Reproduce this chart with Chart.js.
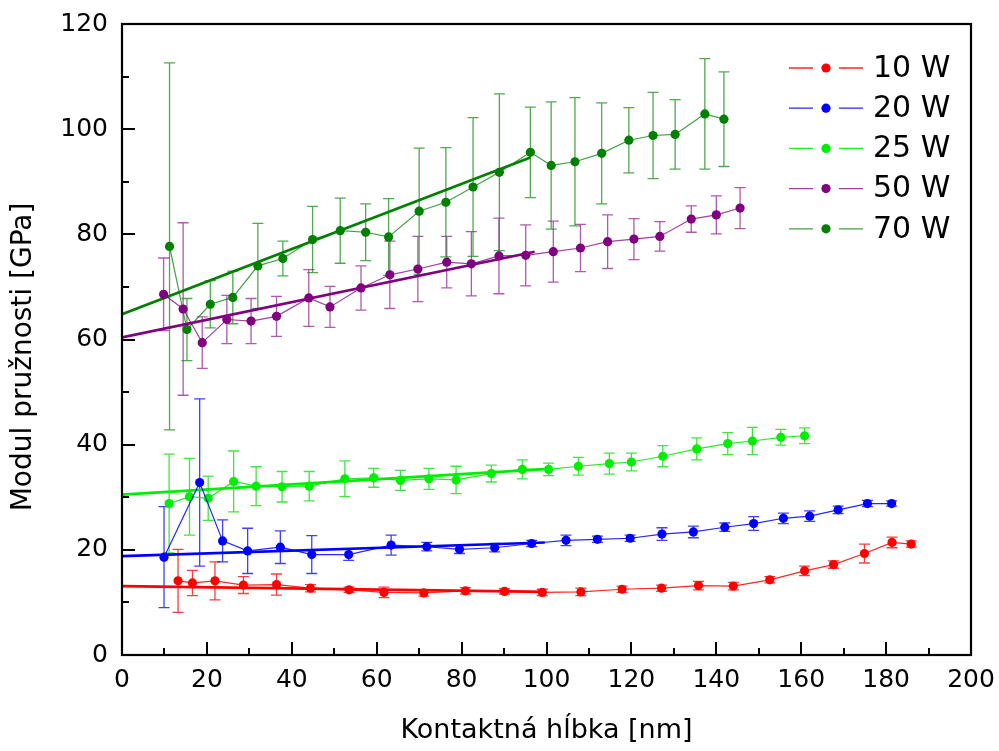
<!DOCTYPE html>
<html>
<head>
<meta charset="utf-8">
<script src="https://cdn.jsdelivr.net/npm/chart.js@4.4.0/dist/chart.umd.min.js"></script>
<style>
  html, body { margin: 0; padding: 0; background: #fff; }
  canvas { display: block; }
</style>
</head>
<body>
<canvas id="chart" width="999" height="751"></canvas>
<script>
// depth [nm], modulus [GPa], error (+/-) for each power
const x10 = [13.2, 16.6, 21.9, 28.6, 36.4, 44.4, 53.5, 61.7, 71.1, 80.9, 90.1, 99.0, 108.1, 117.8, 127.1, 135.8, 144.0, 152.6, 160.8, 167.6, 174.9, 181.4, 185.9];
const y10 = [14.1, 13.7, 14.1, 13.3, 13.4, 12.7, 12.4, 11.9, 11.8, 12.2, 12.1, 11.9, 12.0, 12.5, 12.7, 13.2, 13.1, 14.3, 16.0, 17.2, 19.3, 21.4, 21.1];
const e10 = [6.0, 2.4, 3.6, 1.6, 2.0, 0.7, 0.5, 1.0, 0.6, 0.6, 0.5, 0.6, 0.7, 0.6, 0.6, 0.8, 0.7, 0.6, 0.9, 0.7, 1.8, 1.0, 0.6];

const x20 = [9.9, 18.3, 23.7, 29.6, 37.3, 44.7, 53.4, 63.4, 71.8, 79.5, 87.8, 96.5, 104.6, 112.0, 119.7, 127.2, 134.6, 142.0, 148.8, 155.8, 162.0, 168.7, 175.6, 181.3];
const y20 = [18.6, 32.8, 21.7, 19.8, 20.5, 19.1, 19.1, 20.9, 20.6, 20.1, 20.4, 21.2, 21.8, 22.0, 22.2, 23.0, 23.4, 24.3, 25.0, 26.0, 26.4, 27.6, 28.8, 28.8];
const e20 = [9.6, 15.9, 4.0, 4.3, 3.1, 3.6, 1.1, 1.9, 0.8, 0.8, 0.8, 0.6, 1.0, 0.6, 0.6, 1.2, 1.1, 0.8, 1.3, 1.0, 1.0, 0.7, 0.6, 0.5];

const x25 = [11.1, 15.9, 20.3, 26.3, 31.6, 37.7, 44.1, 52.5, 59.3, 65.6, 72.3, 78.7, 87.0, 94.3, 100.5, 107.5, 114.8, 120.0, 127.4, 135.4, 142.7, 148.5, 155.2, 160.8];
const y25 = [28.8, 30.1, 29.8, 33.0, 32.1, 32.0, 32.1, 33.5, 33.7, 33.2, 33.5, 33.3, 34.5, 35.3, 35.3, 35.9, 36.4, 36.7, 37.8, 39.2, 40.2, 40.7, 41.4, 41.7];
const e25 = [9.4, 7.3, 4.2, 5.8, 3.7, 2.9, 2.8, 3.4, 1.8, 1.9, 2.0, 2.6, 1.6, 1.8, 1.2, 1.7, 2.0, 1.7, 2.0, 2.1, 2.1, 2.6, 1.5, 1.5];

const x50 = [9.8, 14.4, 18.9, 24.7, 30.4, 36.4, 44.0, 49.0, 56.3, 63.1, 69.7, 76.5, 82.3, 88.8, 95.1, 101.6, 108.0, 114.4, 120.6, 126.7, 134.1, 140.0, 145.6];
const y50 = [68.6, 65.8, 59.4, 63.8, 63.5, 64.4, 67.9, 66.2, 69.8, 72.3, 73.4, 74.7, 74.4, 75.9, 76.0, 76.7, 77.4, 78.6, 79.1, 79.6, 82.9, 83.7, 85.0];
const e50 = [6.9, 16.4, 4.9, 4.6, 4.3, 3.8, 5.4, 3.9, 4.2, 6.4, 6.2, 4.9, 6.1, 7.2, 5.8, 5.8, 4.5, 5.1, 3.9, 2.8, 2.5, 3.6, 3.9];

const x70 = [11.2, 15.3, 20.8, 26.1, 32.0, 37.9, 44.9, 51.4, 57.4, 62.8, 70.0, 76.3, 82.7, 88.9, 96.2, 101.1, 106.7, 113.0, 119.4, 125.1, 130.3, 137.3, 141.8];
const y70 = [77.7, 61.9, 66.7, 68.0, 74.0, 75.4, 79.0, 80.7, 80.4, 79.5, 84.4, 86.1, 89.0, 91.8, 95.6, 93.1, 93.8, 95.4, 97.9, 98.8, 99.0, 102.9, 101.9];
const e70 = [34.9, 5.9, 4.5, 5.0, 8.1, 3.3, 6.3, 6.2, 5.4, 7.3, 12.0, 10.4, 13.2, 14.9, 8.6, 12.1, 12.2, 9.6, 6.2, 8.2, 6.6, 10.5, 9.0];

// linear fit end points (start / end)
const fitX10 = [0, 100.0], fitY10 = [13.1, 12.0];
const fitX20 = [0, 99.6],  fitY20 = [18.8, 21.4];
const fitX25 = [0, 100.5], fitY25 = [30.5, 35.4];
const fitX50 = [0, 97.2],  fitY50 = [60.4, 76.7];
const fitX70 = [0, 96.2],  fitY70 = [64.8, 94.6];

const xTitle = 'Kontaktná hĺbka [nm]';
const yTitle = 'Modul pružnosti [GPa]';

const FONT = '"DejaVu Sans", sans-serif';

const series = [
  { label: '10 W', xs: x10, ys: y10, err: e10, fx: fitX10, fy: fitY10, color: '#ff0000', line: 'rgba(255,0,0,0.85)', bar: 'rgba(240,0,0,0.75)' },
  { label: '20 W', xs: x20, ys: y20, err: e20, fx: fitX20, fy: fitY20, color: '#0000ff', line: 'rgba(0,0,255,0.85)', bar: 'rgba(0,0,240,0.75)' },
  { label: '25 W', xs: x25, ys: y25, err: e25, fx: fitX25, fy: fitY25, color: '#00ee00', line: 'rgba(0,230,0,0.85)', bar: 'rgba(0,220,0,0.75)' },
  { label: '50 W', xs: x50, ys: y50, err: e50, fx: fitX50, fy: fitY50, color: '#800080', line: 'rgba(128,0,128,0.75)', bar: 'rgba(140,20,140,0.7)' },
  { label: '70 W', xs: x70, ys: y70, err: e70, fx: fitX70, fy: fitY70, color: '#008000', line: 'rgba(0,128,0,0.75)', bar: 'rgba(20,140,20,0.75)' }
];

function toPoints(xs, ys) {
  return xs.map((x, i) => ({ x: x, y: ys[i] }));
}

const datasets = [];
series.forEach((s) => {
  datasets.push({
    label: s.label,
    data: toPoints(s.xs, s.ys),
    borderColor: s.line,
    backgroundColor: s.color,
    pointBackgroundColor: s.color,
    pointBorderColor: s.color,
    pointBorderWidth: 0,
    pointRadius: 4.6,
    borderWidth: 1.2,
    tension: 0,
    errors: s.err,
    barColor: s.bar
  });
  datasets.push({
    label: s.label + ' fit',
    data: toPoints(s.fx, s.fy),
    borderColor: s.color,
    borderWidth: 2.6,
    pointRadius: 0,
    tension: 0
  });
});

// vertical error bars with caps, drawn under the markers
const errorBars = {
  id: 'errorBars',
  beforeDatasetsDraw(chart) {
    const ctx = chart.ctx;
    const xs = chart.scales.x, ys = chart.scales.y;
    ctx.save();
    chart.data.datasets.forEach((ds) => {
      if (!ds.errors) return;
      ctx.strokeStyle = ds.barColor;
      ctx.lineWidth = 1.3;
      ds.data.forEach((p, i) => {
        const e = ds.errors[i];
        const px = xs.getPixelForValue(p.x);
        const top = ys.getPixelForValue(p.y + e);
        const bot = ys.getPixelForValue(p.y - e);
        ctx.beginPath();
        ctx.moveTo(px, top); ctx.lineTo(px, bot);
        ctx.moveTo(px - 5.5, top); ctx.lineTo(px + 5.5, top);
        ctx.moveTo(px - 5.5, bot); ctx.lineTo(px + 5.5, bot);
        ctx.stroke();
      });
    });
    ctx.restore();
  }
};

// box frame with inward major/minor ticks
const frame = {
  id: 'frame',
  afterDraw(chart) {
    const ctx = chart.ctx;
    const a = chart.chartArea;
    const xs = chart.scales.x, ys = chart.scales.y;
    ctx.save();
    ctx.strokeStyle = '#000';
    ctx.lineWidth = 2;
    ctx.beginPath();
    for (let v = 10; v < 200; v += 10) {
      const px = Math.round(xs.getPixelForValue(v));
      const len = v % 20 === 0 ? 13 : 7;
      ctx.moveTo(px, a.bottom); ctx.lineTo(px, a.bottom - len);
    }
    for (let v = 10; v < 120; v += 10) {
      const py = Math.round(ys.getPixelForValue(v));
      const len = v % 20 === 0 ? 13 : 7;
      ctx.moveTo(a.left, py); ctx.lineTo(a.left + len, py);
    }
    ctx.stroke();
    ctx.lineWidth = 2.2;
    ctx.strokeRect(a.left, a.top, a.right - a.left, a.bottom - a.top);

    // y axis title
    ctx.fillStyle = '#000';
    ctx.font = '28px ' + FONT;
    ctx.textAlign = 'center';
    ctx.textBaseline = 'middle';
    ctx.translate(24, 357);
    ctx.rotate(-Math.PI / 2);
    ctx.fillText(yTitle, 0, 0);
    ctx.restore();
  }
};

// legend: line - dot - line, label
const sideLegend = {
  id: 'sideLegend',
  afterDraw(chart) {
    const ctx = chart.ctx;
    ctx.save();
    ctx.font = '30px ' + FONT;
    ctx.textBaseline = 'middle';
    ctx.textAlign = 'left';
    series.forEach((s, i) => {
      const y = 68 + i * 40.2;
      ctx.strokeStyle = s.line;
      ctx.lineWidth = 1.3;
      ctx.beginPath();
      ctx.moveTo(789, y); ctx.lineTo(813, y);
      ctx.moveTo(839, y); ctx.lineTo(863, y);
      ctx.stroke();
      ctx.fillStyle = s.color;
      ctx.beginPath();
      ctx.arc(826, y, 4.6, 0, Math.PI * 2);
      ctx.fill();
      ctx.fillStyle = '#000';
      ctx.fillText(s.label, 873, y + 1);
    });
    ctx.restore();
  }
};

function noLabelPadding(scale) {
  scale.paddingTop = 0;
  scale.paddingBottom = 0;
  scale.paddingLeft = 0;
  scale.paddingRight = 0;
}

new Chart(document.getElementById('chart'), {
  type: 'line',
  data: { datasets: datasets },
  options: {
    responsive: false,
    animation: false,
    layout: { padding: { top: 24, right: 28, left: 0, bottom: 0 } },
    plugins: {
      legend: { display: false },
      tooltip: { enabled: false }
    },
    scales: {
      x: {
        type: 'linear',
        min: 0,
        max: 200,
        grid: { display: false, drawTicks: false },
        border: { display: false },
        ticks: {
          stepSize: 20,
          padding: 10,
          color: '#000',
          font: { family: FONT, size: 25 },
          maxRotation: 0
        },
        title: {
          display: true,
          text: xTitle,
          color: '#000',
          font: { family: FONT, size: 27 },
          padding: { top: 0, bottom: 4 }
        },
        afterFit(scale) { scale.height = 96; noLabelPadding(scale); }
      },
      y: {
        type: 'linear',
        min: 0,
        max: 120,
        grid: { display: false, drawTicks: false },
        border: { display: false },
        ticks: {
          stepSize: 20,
          padding: 14,
          color: '#000',
          font: { family: FONT, size: 25 }
        },
        afterFit(scale) { scale.width = 122; noLabelPadding(scale); }
      }
    }
  },
  plugins: [errorBars, frame, sideLegend]
});
</script>
</body>
</html>
